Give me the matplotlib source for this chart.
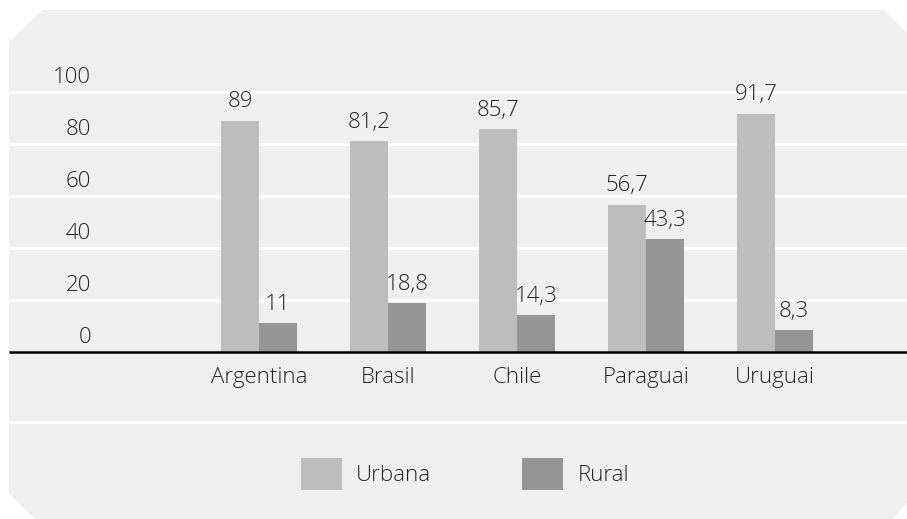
import matplotlib
matplotlib.use("Agg")
import matplotlib.pyplot as plt
from matplotlib.patches import Polygon

plt.rcParams['font.family'] = ['Open Sans', 'DejaVu Sans']
plt.rcParams['font.weight'] = 300

# dados
paises = ['Argentina', 'Brasil', 'Chile', 'Paraguai', 'Uruguai']
urbana = [89, 81.2, 85.7, 56.7, 91.7]
rural = [11, 18.8, 14.3, 43.3, 8.3]
rot_urbana = ['89', '81,2', '85,7', '56,7', '91,7']
rot_rural = ['11', '18,8', '14,3', '43,3', '8,3']
ticks_y = [0, 20, 40, 60, 80, 100]

W, H = 907, 519
cor_urb = '#bdbdbd'
cor_rur = '#959595'
cor_fundo = '#efefef'
cor_txt = '#222222'

fig = plt.figure(figsize=(W / 100, H / 100), dpi=100)
fig.patch.set_facecolor('white')

# fundo cinza com cantos cortados
pts = [(9, 42), (42, 10), (884, 10), (907, 33), (907, 503), (893, 519), (35, 519), (9, 493)]
fig.add_artist(Polygon([(x / W, 1 - y / H) for x, y in pts], closed=True,
                       transform=fig.transFigure, facecolor=cor_fundo, edgecolor='none', zorder=0))

# eixo ocupando toda a figura: x em "categorias", y em porcentagem
ax = fig.add_axes([0, 0, 1, 1])
ax.patch.set_visible(False)
ax.axis('off')
esc = 2.6        # px por unidade
x0, passo = 259, 129
ax.set_xlim(-x0 / passo, (W - x0) / passo)
ax.set_ylim(-(H - 352) / esc, 352 / esc)

xl = (9 - x0) / passo
xr = (W - x0) / passo
# linhas brancas
ax.hlines(ticks_y[1:], xl, xr, colors='white', lw=2.3, zorder=1)
# separador da legenda
fig.add_artist(plt.Line2D([9 / W, 1], [1 - 422 / H] * 2, color='white', lw=2.3, zorder=1))

larg = 38 / passo
xs = list(range(len(paises)))
ax.bar([x - larg / 2 for x in xs], urbana, width=larg, color=cor_urb, zorder=2, label='Urbana')
ax.bar([x + larg / 2 for x in xs], rural, width=larg, color=cor_rur, zorder=2, label='Rural')
ax.hlines(0, xl, xr, colors='black', lw=1.8, zorder=3)

fs = 16
for x, v, t in zip(xs, urbana, rot_urbana):
    ax.annotate(t, (x - larg / 2, v), xytext=(0, 9.5), textcoords='offset points',
                ha='center', va='baseline', fontsize=fs, color=cor_txt)
for x, v, t in zip(xs, rural, rot_rural):
    ax.annotate(t, (x + larg / 2, v), xytext=(0, 9.5), textcoords='offset points',
                ha='center', va='baseline', fontsize=fs, color=cor_txt)

# rotulos do eixo y
for v in ticks_y:
    ax.annotate(str(v), ((91 - x0) / passo, v), xytext=(0, 6.5), textcoords='offset points',
                ha='right', va='baseline', fontsize=fs, color=cor_txt)

# nomes dos paises
for x, p in zip(xs, paises):
    ax.annotate(p, (x, 0), xytext=(0, -22.5), textcoords='offset points',
                ha='center', va='baseline', fontsize=fs, color=cor_txt)

leg = fig.legend(loc='center', bbox_to_anchor=(465 / W, 1 - 474 / H), ncol=2, frameon=False,
                 fontsize=fs, handlelength=1.85, handleheight=1.85, handletextpad=0.63,
                 columnspacing=4.1, borderpad=0)
for t in leg.get_texts():
    t.set_color(cor_txt)

fig.savefig('out.png', dpi=100)
